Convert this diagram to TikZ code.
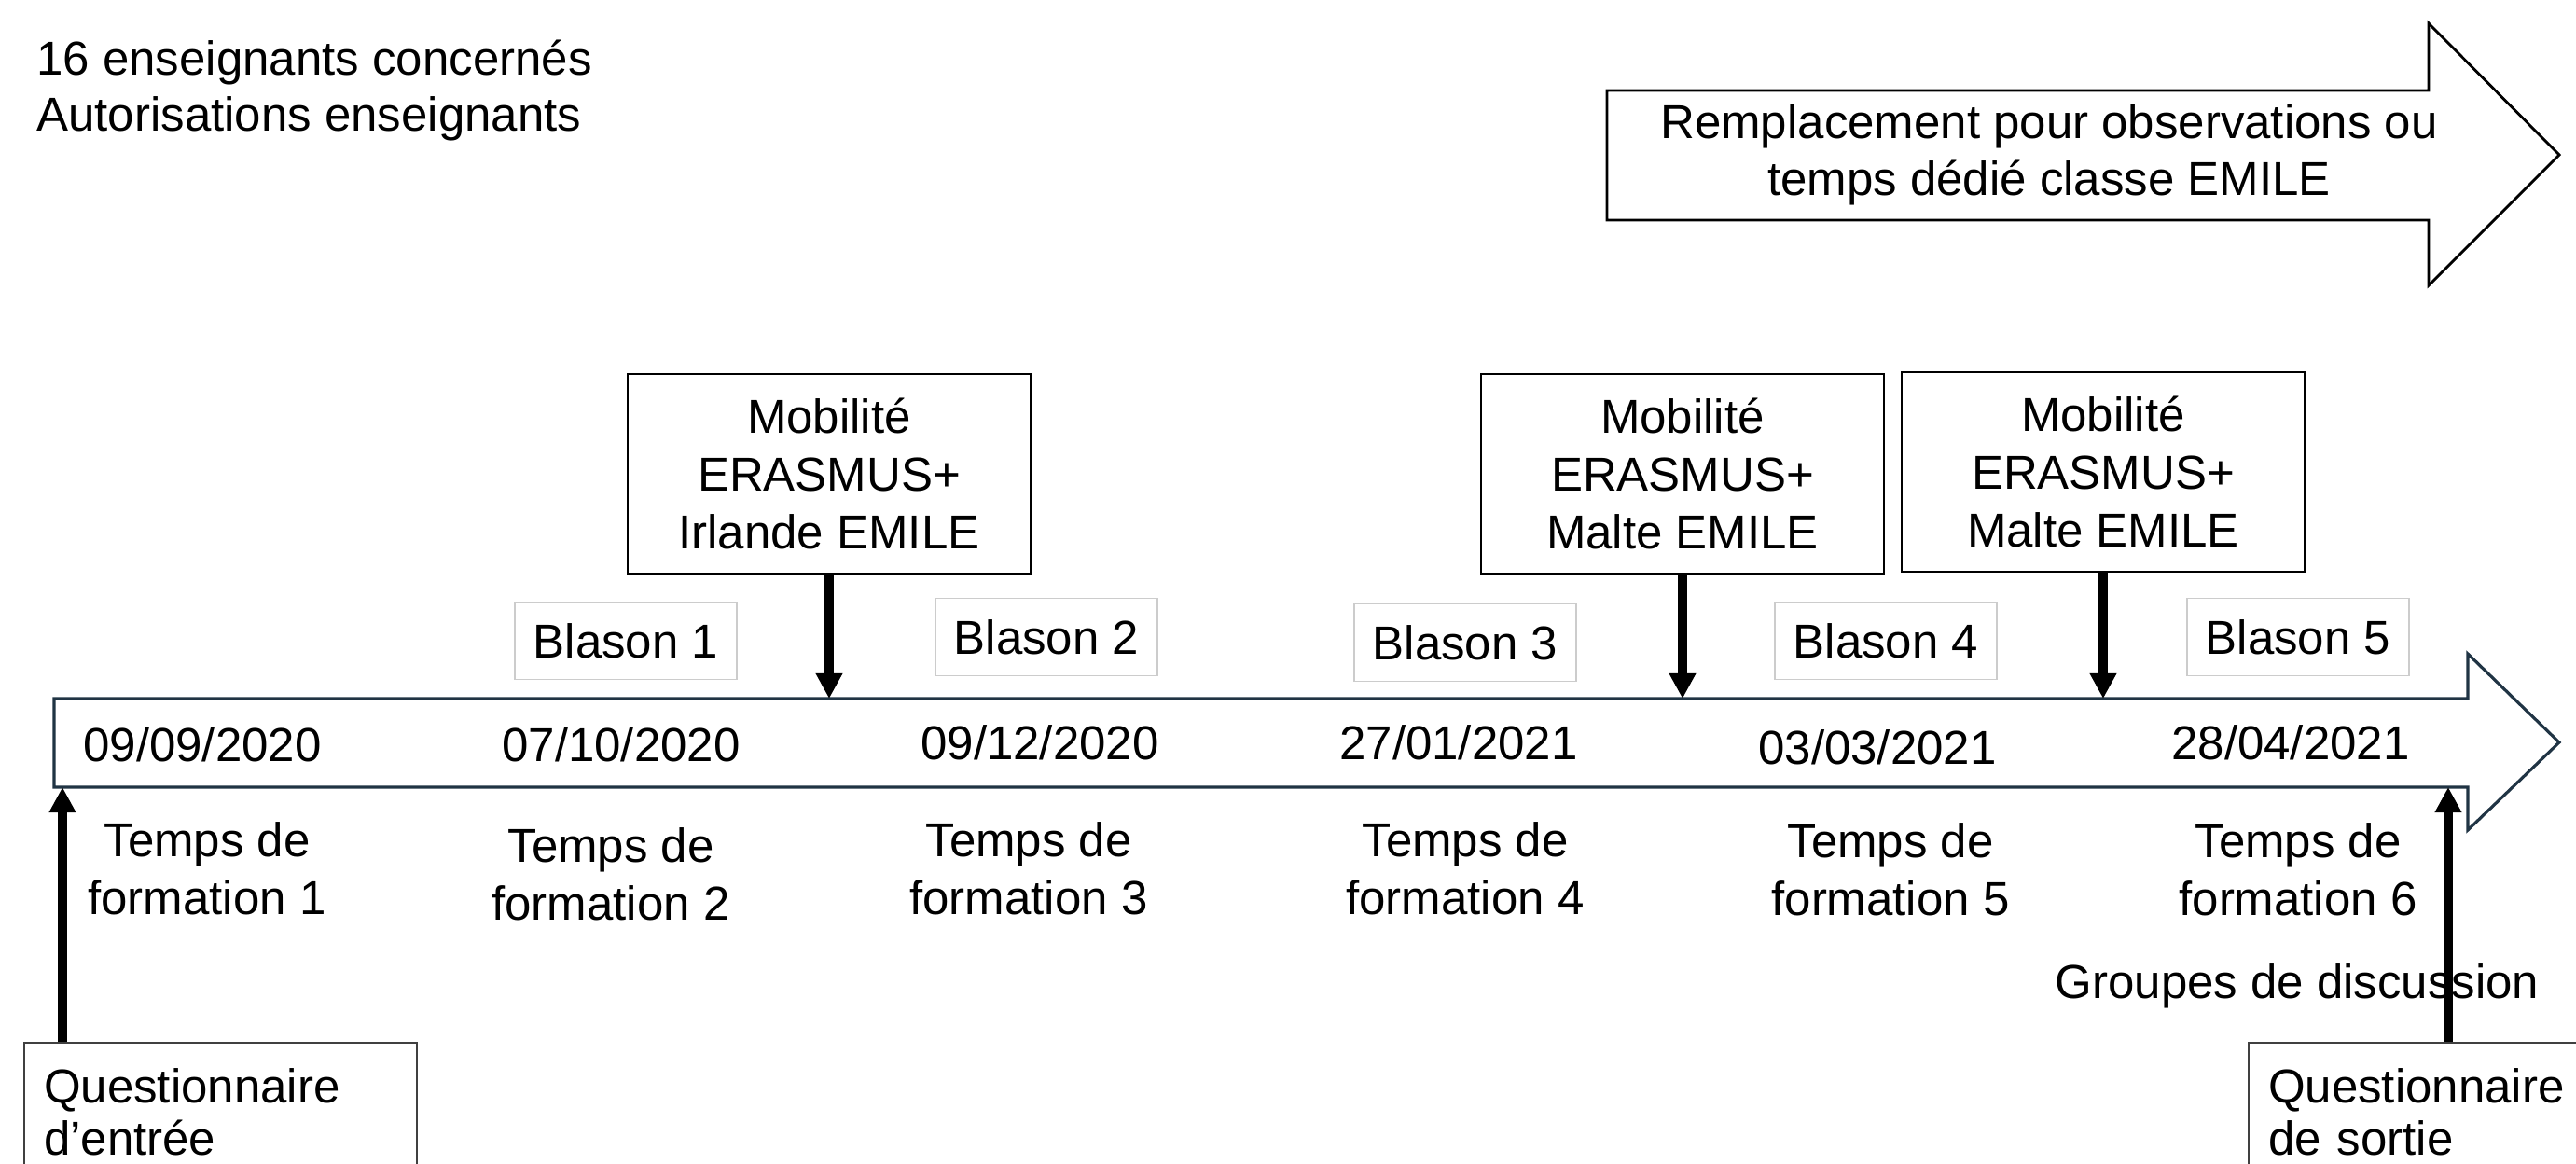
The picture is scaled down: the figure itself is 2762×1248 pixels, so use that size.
\documentclass[tikz,border=0pt]{standalone}
\usepackage{fontspec}
\setmainfont{Liberation Sans}
\usetikzlibrary{arrows.meta}

\definecolor{tlline}{RGB}{32,52,68}

\tikzset{
  mobbox/.style={draw, line width=0.6pt, minimum width=4.31cm, minimum height=2.13cm, align=center},
  blason/.style={draw=black!20, line width=0.5pt, minimum width=2.38cm, minimum height=0.83cm},
  formation/.style={align=center},
  questbox/.style={draw=black!75, line width=0.6pt, anchor=north west, align=left,
    inner xsep=0.21cm, minimum height=1.48cm, font=\fontsize{14.5}{16}\selectfont},
  pointer/.style={line width=2.6pt, -{Triangle[length=7.7pt,width=7.7pt]}}
}

\begin{document}
\begin{tikzpicture}[x=0.01cm, y=-0.01cm, font=\fontsize{14.5}{17.5}\selectfont]
      \useasboundingbox (0,0) rectangle (2762,1248);
      \clip (0,0) rectangle (2762,1248);

      % header and top arrow
      \node[anchor=west, align=left, font=\fontsize{14.5}{17}\selectfont] (intro) at (27,97)
        {16 enseignants concernés\\Autorisations enseignants};
      \draw[line width=0.8pt] (1723,97) -- (2604,97) -- (2604,25) -- (2744,166)
        -- (2604,306) -- (2604,236) -- (1723,236) -- cycle;
      \node[align=center] (remp) at (2197,166)
        {Remplacement pour observations ou\\temps dédié classe EMILE};

      % timeline
      \draw[tlline, line width=0.9pt] (58,749) -- (2646,749) -- (2646,701) -- (2744,796)
        -- (2646,890) -- (2646,844) -- (58,844) -- cycle;
      \coordinate (tltop) at (0,749);
      \coordinate (in) at (67,844);
      \coordinate (out) at (2625,844);

      \path
        (217,798) node (d1){09/09/2020}
        (666,798) node (d2){07/10/2020}
        (1115,796) node (d3){09/12/2020}
        (1564,796) node (d4){27/01/2021}
        (2013,801) node (d5){03/03/2021}
        (2456,796) node (d6){28/04/2021};

      \path
        (222,931) node[formation] (f1){Temps de\\formation 1}
        (655,937) node[formation] (f2){Temps de\\formation 2}
        (1103,931) node[formation] (f3){Temps de\\formation 3}
        (1571,931) node[formation] (f4){Temps de\\formation 4}
        (2027,932) node[formation] (f5){Temps de\\formation 5}
        (2464,932) node[formation] (f6){Temps de\\formation 6};

      \path
        (671,687) node[blason] (b1){Blason 1}
        (1122,683) node[blason] (b2){Blason 2}
        (1571,689) node[blason] (b3){Blason 3}
        (2022,687) node[blason] (b4){Blason 4}
        (2464,683) node[blason] (b5){Blason 5};

      % mobilities
      \node[mobbox] (mob1) at (889,508) {Mobilité\\ERASMUS+\\Irlande EMILE};
      \node[mobbox] (mob2) at (1804,508) {Mobilité\\ERASMUS+\\Malte EMILE};
      \node[mobbox] (mob3) at (2255,506) {Mobilité\\ERASMUS+\\Malte EMILE};

      % questionnaires
      \node[questbox, text width=3.79cm] (qin) at (25,1117) {Questionnaire\\d’entrée};
      \node[questbox, text width=3.6cm] (qout) at (2410,1117) {Questionnaire\\de sortie};
      \node (grp) at (2463,1057) {Groupes de discussion};

      \begin{scope}[pointer]
        \draw (mob1.south) -- (mob1.south |- tltop);
        \draw (mob2.south) -- (mob2.south |- tltop);
        \draw (mob3.south) -- (mob3.south |- tltop);
        \draw (in |- qin.north) -- (in);
        \draw (out |- qout.north) -- (out);
      \end{scope}
    \end{tikzpicture}
\end{document}
